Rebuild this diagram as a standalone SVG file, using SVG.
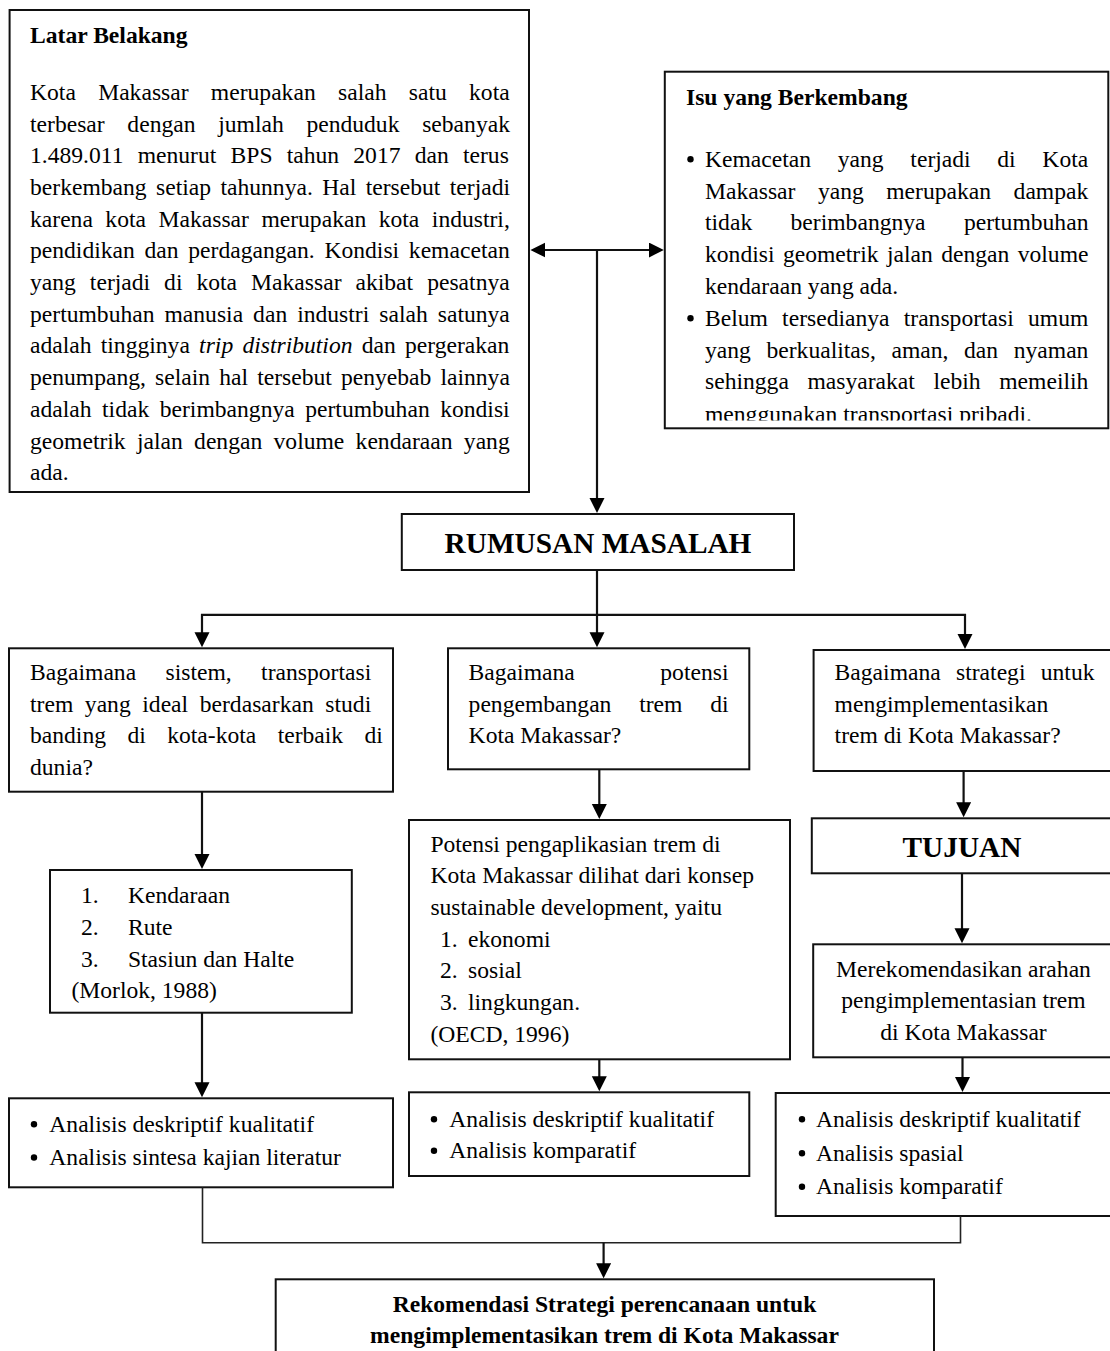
<svg xmlns="http://www.w3.org/2000/svg" width="1110" height="1351" viewBox="0 0 1110 1351">
<style>
.box{fill:#fff;stroke:#111;stroke-width:2}
.t{font-family:"Liberation Serif","Times New Roman",serif;font-size:23.6px;fill:#000}
.b{font-weight:bold}
.big{font-size:29.3px;font-weight:bold}
.c{text-anchor:middle}
.con{fill:none;stroke:#111;stroke-width:2.2}
.thin{fill:none;stroke:#222;stroke-width:1.6}
.dot{fill:#000}
</style>
<defs>
<marker id="ah" markerUnits="userSpaceOnUse" markerWidth="16" markerHeight="16" refX="8" refY="7.5" orient="auto-start-reverse">
<path d="M0,0 L15,7.5 L0,15 z" fill="#000"/>
</marker>
<clipPath id="isuclip"><rect x="665" y="78" width="443" height="342.5"/></clipPath>
</defs>

<g id="latar-belakang">
<rect class="box" x="9.6" y="10" width="519.4" height="482"/>
<text class="t b" x="30" y="43.3">Latar Belakang</text>
<text class="t" x="30" y="100" word-spacing="16.4">Kota Makassar merupakan salah satu kota</text>
<text class="t" x="30" y="131.7" word-spacing="16.8">terbesar dengan jumlah penduduk sebanyak</text>
<text class="t" x="30" y="163.3" word-spacing="8.3">1.489.011 menurut BPS tahun 2017 dan terus</text>
<text class="t" x="30" y="195" word-spacing="3.5">berkembang setiap tahunnya. Hal tersebut terjadi</text>
<text class="t" x="30" y="226.7" word-spacing="6.6">karena kota Makassar merupakan kota industri,</text>
<text class="t" x="30" y="258.3" word-spacing="3.8">pendidikan dan perdagangan. Kondisi kemacetan</text>
<text class="t" x="30" y="290" word-spacing="8.1">yang terjadi di kota Makassar akibat pesatnya</text>
<text class="t" x="30" y="321.7" word-spacing="4.1">pertumbuhan manusia dan industri salah satunya</text>
<text class="t" x="30" y="353.3" word-spacing="3.3">adalah tingginya <tspan font-style="italic">trip distribution</tspan> dan pergerakan</text>
<text class="t" x="30" y="385" word-spacing="3.2">penumpang, selain hal tersebut penyebab lainnya</text>
<text class="t" x="30" y="416.7" word-spacing="4.6">adalah tidak berimbangnya pertumbuhan kondisi</text>
<text class="t" x="30" y="448.6" word-spacing="5.4">geometrik jalan dengan volume kendaraan yang</text>
<text class="t" x="30" y="480.3">ada.</text>
</g>

<g id="isu-berkembang">
<rect class="box" x="664.8" y="71.7" width="443.5" height="356.6"/>
<text class="t b" x="686" y="105">Isu yang Berkembang</text>
<g clip-path="url(#isuclip)">
<circle class="dot" cx="690.5" cy="159.2" r="3.2"/>
<text class="t" x="705" y="166.7" word-spacing="20.8">Kemacetan yang terjadi di Kota</text>
<text class="t" x="705" y="198.5" word-spacing="16.6">Makassar yang merupakan dampak</text>
<text class="t" x="705" y="230.3" word-spacing="32.5">tidak berimbangnya pertumbuhan</text>
<text class="t" x="705" y="262.1" word-spacing="2.5">kondisi geometrik jalan dengan volume</text>
<text class="t" x="705" y="293.9">kendaraan yang ada.</text>
<circle class="dot" cx="690.5" cy="318.2" r="3.2"/>
<text class="t" x="705" y="325.7" word-spacing="8.3">Belum tersedianya transportasi umum</text>
<text class="t" x="705" y="357.5" word-spacing="9.7">yang berkualitas, aman, dan nyaman</text>
<text class="t" x="705" y="389.3" word-spacing="12.7">sehingga masyarakat lebih memeilih</text>
<text class="t" x="705" y="422">menggunakan transportasi pribadi.</text>
</g>
</g>

<g id="rumusan-masalah">
<rect class="box" x="401.8" y="514" width="392.2" height="56"/>
<text class="t big c" x="598" y="552.5">RUMUSAN MASALAH</text>
</g>

<g id="q-sistem">
<rect class="box" x="9" y="648.3" width="384" height="143.4"/>
<text class="t" x="30" y="680" word-spacing="23.5">Bagaimana sistem, transportasi</text>
<text class="t" x="30" y="711.7" word-spacing="5.7">trem yang ideal berdasarkan studi</text>
<text class="t" x="30" y="743.3" word-spacing="15.5">banding di kota-kota terbaik di</text>
<text class="t" x="30" y="775">dunia?</text>
</g>

<g id="q-potensi">
<rect class="box" x="448" y="648.3" width="301.3" height="121"/>
<text class="t" x="468.6" y="680" word-spacing="79.7">Bagaimana potensi</text>
<text class="t" x="468.6" y="711.7" word-spacing="21.9">pengembangan trem di</text>
<text class="t" x="468.6" y="743.3">Kota Makassar?</text>
</g>

<g id="q-strategi">
<rect class="box" x="813.6" y="650" width="495" height="121"/>
<text class="t" x="834.6" y="680" word-spacing="9.4">Bagaimana strategi untuk</text>
<text class="t" x="834.6" y="711.7">mengimplementasikan</text>
<text class="t" x="834.6" y="743.3">trem di Kota Makassar?</text>
</g>

<g id="morlok">
<rect class="box" x="50" y="870" width="301.8" height="142.7"/>
<text class="t" x="81" y="903.3">1.</text><text class="t" x="127.9" y="903.3">Kendaraan</text>
<text class="t" x="81" y="935">2.</text><text class="t" x="127.9" y="935">Rute</text>
<text class="t" x="81" y="966.7">3.</text><text class="t" x="127.9" y="966.7">Stasiun dan Halte</text>
<text class="t" x="71.4" y="998.3">(Morlok, 1988)</text>
</g>

<g id="oecd">
<rect class="box" x="409" y="820" width="381" height="239.3"/>
<text class="t" x="430.4" y="851.7">Potensi pengaplikasian trem di</text>
<text class="t" x="430.4" y="883.3">Kota Makassar dilihat dari konsep</text>
<text class="t" x="430.4" y="915">sustainable development, yaitu</text>
<text class="t" x="440" y="946.7">1.</text><text class="t" x="468" y="946.7">ekonomi</text>
<text class="t" x="440" y="978.3">2.</text><text class="t" x="468" y="978.3">sosial</text>
<text class="t" x="440" y="1010">3.</text><text class="t" x="468" y="1010">lingkungan.</text>
<text class="t" x="430.4" y="1041.7">(OECD, 1996)</text>
</g>

<g id="tujuan">
<rect class="box" x="811.8" y="818.3" width="496" height="55"/>
<text class="t big c" x="962" y="856.7">TUJUAN</text>
</g>

<g id="rekomendasi-arahan">
<rect class="box" x="813.2" y="944.3" width="495" height="113"/>
<text class="t c" x="963.5" y="976.7">Merekomendasikan arahan</text>
<text class="t c" x="963.5" y="1008.3">pengimplementasian trem</text>
<text class="t c" x="963.5" y="1040">di Kota Makassar</text>
</g>

<g id="analisis-kiri">
<rect class="box" x="9" y="1098.3" width="384" height="89"/>
<circle class="dot" cx="34" cy="1124.2" r="3.2"/>
<text class="t" x="49.3" y="1131.7">Analisis deskriptif kualitatif</text>
<circle class="dot" cx="34" cy="1157.5" r="3.2"/>
<text class="t" x="49.3" y="1165">Analisis sintesa kajian literatur</text>
</g>

<g id="analisis-tengah">
<rect class="box" x="409" y="1092.3" width="340.3" height="83.7"/>
<circle class="dot" cx="434" cy="1119.2" r="3.2"/>
<text class="t" x="449.3" y="1126.7">Analisis deskriptif kualitatif</text>
<circle class="dot" cx="434" cy="1150.8" r="3.2"/>
<text class="t" x="449.3" y="1158.3">Analisis komparatif</text>
</g>

<g id="analisis-kanan">
<rect class="box" x="775.7" y="1093" width="533" height="123"/>
<circle class="dot" cx="802" cy="1119.2" r="3.2"/>
<text class="t" x="816" y="1126.7">Analisis deskriptif kualitatif</text>
<circle class="dot" cx="802" cy="1153.3" r="3.2"/>
<text class="t" x="816" y="1160.8">Analisis spasial</text>
<circle class="dot" cx="802" cy="1186.8" r="3.2"/>
<text class="t" x="816" y="1194.3">Analisis komparatif</text>
</g>

<g id="rekomendasi-strategi">
<rect class="box" x="275.7" y="1279.3" width="658.3" height="100"/>
<text class="t b c" x="604.5" y="1311.7">Rekomendasi Strategi perencanaan untuk</text>
<text class="t b c" x="604.5" y="1343.3">mengimplementasikan trem di Kota Makassar</text>
</g>

<g id="connectors">
<line class="con" x1="537.4" y1="250" x2="656.8" y2="250" marker-start="url(#ah)" marker-end="url(#ah)"/>
<line class="con" x1="597" y1="250" x2="597" y2="506" marker-end="url(#ah)"/>
<line class="con" x1="597" y1="570" x2="597" y2="640.3" marker-end="url(#ah)"/>
<polyline class="con" points="202,640.3 202,614.8 965,614.8 965,642" marker-start="url(#ah)" marker-end="url(#ah)"/>
<line class="con" x1="202" y1="791.7" x2="202" y2="862" marker-end="url(#ah)"/>
<line class="con" x1="202" y1="1012.7" x2="202" y2="1090.3" marker-end="url(#ah)"/>
<line class="con" x1="599.3" y1="769.3" x2="599.3" y2="812" marker-end="url(#ah)"/>
<line class="con" x1="599.3" y1="1059.3" x2="599.3" y2="1084.3" marker-end="url(#ah)"/>
<line class="con" x1="963.6" y1="771" x2="963.6" y2="810.3" marker-end="url(#ah)"/>
<line class="con" x1="962" y1="873.3" x2="962" y2="936.3" marker-end="url(#ah)"/>
<line class="con" x1="962.5" y1="1057.3" x2="962.5" y2="1085" marker-end="url(#ah)"/>
<polyline class="thin" points="202.5,1187.3 202.5,1242.7 960.5,1242.7 960.5,1216"/>
<line class="con" x1="603.6" y1="1242.7" x2="603.6" y2="1271.3" marker-end="url(#ah)"/>
</g>
</svg>
